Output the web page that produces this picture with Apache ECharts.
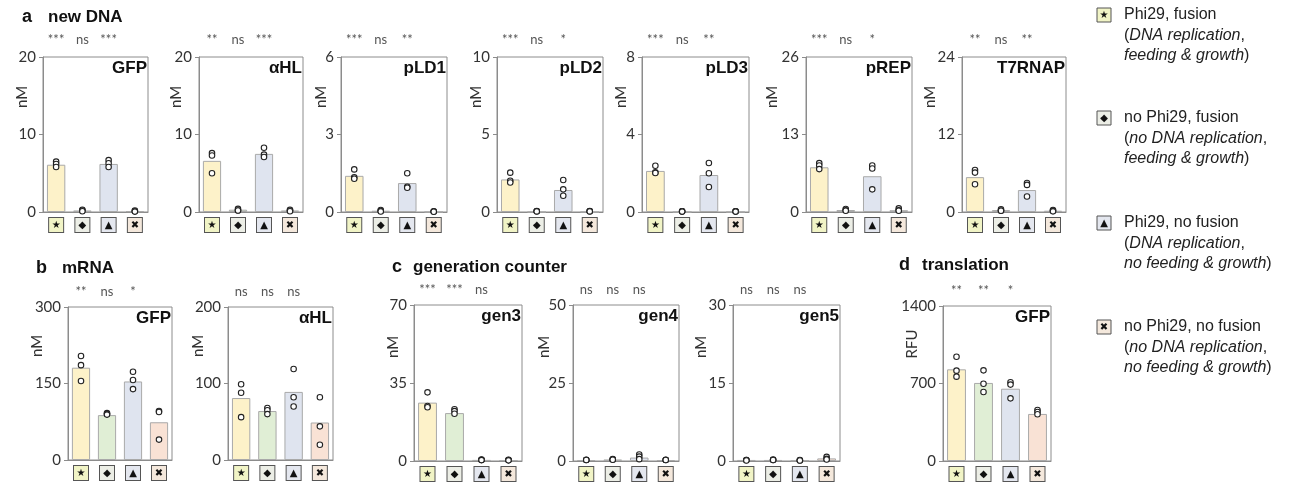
<!DOCTYPE html>
<html><head><meta charset="utf-8">
<script src="https://cdn.jsdelivr.net/npm/echarts@6/dist/echarts.min.js"></script>
<style>html,body{margin:0;padding:0;background:#fff}#c{width:1299px;height:485px}</style>
</head><body><div id="c"></div>
<script>
// ---- categories ----
const conditions = ['Phi29, fusion', 'no Phi29, fusion', 'Phi29, no fusion', 'no Phi29, no fusion'];
const conditionSymbols = ['★', '◆', '▲', '✖'];
const legendLine2 = ['DNA replication', 'no DNA replication', 'DNA replication', 'no DNA replication'];
const legendLine3 = ['feeding & growth', 'feeding & growth', 'no feeding & growth', 'no feeding & growth'];

// ---- a: new DNA ----
const dnaGFP_mean = [6.1, 0.2, 6.2, 0.1];
const dnaGFP_reps = [[6.5, 6.2, 5.8], [0.3, 0.2, 0.1], [6.7, 6.3, 5.8], [0.2, 0.1, 0.05]];
const dnaGFP_sig = ['***', 'ns', '***'];
const dnaGFP_ticks = [0, 10, 20];

const dnaHL_mean = [6.6, 0.3, 7.5, 0.2];
const dnaHL_reps = [[7.6, 7.3, 5.0], [0.4, 0.2, 0.2], [8.3, 7.4, 7.1], [0.3, 0.2, 0.1]];
const dnaHL_sig = ['**', 'ns', '***'];
const dnaHL_ticks = [0, 10, 20];

const dnaLD1_mean = [1.4, 0.05, 1.12, 0.0];
const dnaLD1_reps = [[1.65, 1.34, 1.29], [0.08, 0.04, 0.02], [1.5, 0.98, 0.94], [0.03, 0.02, 0.01]];
const dnaLD1_sig = ['***', 'ns', '**'];
const dnaLD1_ticks = [0, 3, 6];

const dnaLD2_mean = [2.1, 0.0, 1.42, 0.0];
const dnaLD2_reps = [[2.54, 2.02, 1.9], [0.06, 0.05, 0.04], [2.06, 1.46, 1.05], [0.06, 0.05, 0.04]];
const dnaLD2_sig = ['***', 'ns', '*'];
const dnaLD2_ticks = [0, 5, 10];

const dnaLD3_mean = [2.12, 0.0, 1.91, 0.0];
const dnaLD3_reps = [[2.39, 2.05, 2.01], [0.04, 0.03, 0.02], [2.53, 2.0, 1.29], [0.04, 0.03, 0.02]];
const dnaLD3_sig = ['***', 'ns', '**'];
const dnaLD3_ticks = [0, 4, 8];

const dnaREP_mean = [7.5, 0.33, 6.0, 0.3];
const dnaREP_reps = [[8.2, 7.8, 7.2], [0.5, 0.3, 0.2], [7.8, 7.3, 3.8], [0.6, 0.3, 0.2]];
const dnaREP_sig = ['***', 'ns', '*'];
const dnaREP_ticks = [0, 13, 26];

const dnaT7_mean = [5.4, 0.3, 3.4, 0.2];
const dnaT7_reps = [[6.5, 6.1, 4.3], [0.4, 0.2, 0.2], [4.5, 4.2, 2.4], [0.3, 0.2, 0.1]];
const dnaT7_sig = ['**', 'ns', '**'];
const dnaT7_ticks = [0, 12, 24];

// ---- b: mRNA ----
const rnaGFP_mean = [181, 88, 154, 74];
const rnaGFP_reps = [[204, 186, 155], [92, 90, 89], [173, 157, 139], [96, 94, 40]];
const rnaGFP_sig = ['**', 'ns', '*'];
const rnaGFP_ticks = [0, 150, 300];

const rnaHL_mean = [81, 64, 89, 49];
const rnaHL_reps = [[99, 88, 56], [68, 65, 60], [119, 82, 70], [82, 44, 20]];
const rnaHL_sig = ['ns', 'ns', 'ns'];
const rnaHL_ticks = [0, 100, 200];

// ---- c: generation counter ----
const gen3_mean = [26.2, 21.5, 0.5, 0.4];
const gen3_reps = [[30.8, 24.7, 24.1], [23.2, 22.4, 21.2], [0.6, 0.5, 0.4], [0.5, 0.4, 0.3]];
const gen3_sig = ['***', '***', 'ns'];
const gen3_ticks = [0, 35, 70];

const gen4_mean = [0.3, 0.5, 1.1, 0.3];
const gen4_reps = [[0.4, 0.3, 0.3], [0.6, 0.5, 0.4], [2.1, 1.4, 0.6], [0.4, 0.3, 0.3]];
const gen4_sig = ['ns', 'ns', 'ns'];
const gen4_ticks = [0, 25, 50];

const gen5_mean = [0.2, 0.2, 0.1, 0.5];
const gen5_reps = [[0.2, 0.2, 0.1], [0.3, 0.2, 0.2], [0.2, 0.1, 0.1], [0.8, 0.4, 0.3]];
const gen5_sig = ['ns', 'ns', 'ns'];
const gen5_ticks = [0, 15, 30];

// ---- d: translation ----
const trGFP_mean = [828, 705, 653, 425];
const trGFP_reps = [[942, 816, 762], [819, 698, 623], [711, 690, 566], [461, 443, 422]];
const trGFP_sig = ['**', '**', '*'];
const trGFP_ticks = [0, 700, 1400];

const panels = [
  { name: 'GFP', unit: 'nM', mean: dnaGFP_mean, reps: dnaGFP_reps, sig: dnaGFP_sig, ticks: dnaGFP_ticks },
  { name: 'αHL', unit: 'nM', mean: dnaHL_mean, reps: dnaHL_reps, sig: dnaHL_sig, ticks: dnaHL_ticks },
  { name: 'pLD1', unit: 'nM', mean: dnaLD1_mean, reps: dnaLD1_reps, sig: dnaLD1_sig, ticks: dnaLD1_ticks },
  { name: 'pLD2', unit: 'nM', mean: dnaLD2_mean, reps: dnaLD2_reps, sig: dnaLD2_sig, ticks: dnaLD2_ticks },
  { name: 'pLD3', unit: 'nM', mean: dnaLD3_mean, reps: dnaLD3_reps, sig: dnaLD3_sig, ticks: dnaLD3_ticks },
  { name: 'pREP', unit: 'nM', mean: dnaREP_mean, reps: dnaREP_reps, sig: dnaREP_sig, ticks: dnaREP_ticks },
  { name: 'T7RNAP', unit: 'nM', mean: dnaT7_mean, reps: dnaT7_reps, sig: dnaT7_sig, ticks: dnaT7_ticks },
  { name: 'GFP', unit: 'nM', mean: rnaGFP_mean, reps: rnaGFP_reps, sig: rnaGFP_sig, ticks: rnaGFP_ticks },
  { name: 'αHL', unit: 'nM', mean: rnaHL_mean, reps: rnaHL_reps, sig: rnaHL_sig, ticks: rnaHL_ticks },
  { name: 'gen3', unit: 'nM', mean: gen3_mean, reps: gen3_reps, sig: gen3_sig, ticks: gen3_ticks },
  { name: 'gen4', unit: 'nM', mean: gen4_mean, reps: gen4_reps, sig: gen4_sig, ticks: gen4_ticks },
  { name: 'gen5', unit: 'nM', mean: gen5_mean, reps: gen5_reps, sig: gen5_sig, ticks: gen5_ticks },
  { name: 'GFP', unit: 'RFU', mean: trGFP_mean, reps: trGFP_reps, sig: trGFP_sig, ticks: trGFP_ticks }
];

const sections = [
  { letter: 'a', title: 'new DNA' },
  { letter: 'b', title: 'mRNA' },
  { letter: 'c', title: 'generation counter' },
  { letter: 'd', title: 'translation' }
];

// ---- layout & style (kept separate from data) ----
const layout = [
  { l: 43, t: 57, w: 105, h: 155, nx: -21, ny: 40, sm: 11 },
  { l: 199, t: 57, w: 104, h: 155, nx: -23, ny: 40, sm: 11 },
  { l: 341, t: 57, w: 106, h: 155, nx: -20, ny: 40, sm: 11 },
  { l: 497, t: 57, w: 106, h: 155, nx: -21, ny: 40, sm: 11 },
  { l: 642, t: 57, w: 107, h: 155, nx: -21, ny: 40, sm: 11 },
  { l: 806, t: 57, w: 106, h: 155, nx: -34, ny: 40, sm: 11 },
  { l: 962, t: 57, w: 104, h: 155, nx: -32, ny: 40, sm: 11 },
  { l: 68, t: 307, w: 104, h: 153, nx: -31, ny: 39, sm: 9 },
  { l: 228, t: 307, w: 105, h: 153, nx: -30, ny: 39, sm: 9 },
  { l: 414, t: 305, w: 108, h: 156, nx: -21, ny: 42, sm: 9 },
  { l: 573, t: 305, w: 106, h: 156, nx: -29, ny: 42, sm: 9 },
  { l: 733, t: 305, w: 107, h: 156, nx: -32, ny: 42, sm: 9 },
  { l: 943, t: 306, w: 108, h: 155, nx: -31, ny: 38, sm: 9 }
];
const sectionPos = [
  { lx: 22, tx: 48, y: 17 },
  { lx: 36, tx: 62, y: 268 },
  { lx: 392, tx: 413, y: 267 },
  { lx: 899, tx: 922, y: 265 }
];
const legendPos = { bx: 1097, tx: 1124, ys: [15, 118, 223, 327] };

const barColors = ['#fdf2c9', '#e0eed5', '#dfe4ef', '#f9e2d5'];
const boxColors = ['#f1f4c6', '#eceee6', '#e4e7ef', '#f4e8dc'];
const axisGray = '#8c8c8c';

const richBoxes = {};
boxColors.forEach((c, k) => {
  richBoxes['s' + k] = {
    backgroundColor: c, borderColor: '#555', borderWidth: 1,
    width: 14, height: 14, lineHeight: 14, align: 'center',
    fontSize: 10, fontFamily: 'DejaVu Sans', color: '#111'
  };
});

const grid = [], xAxis = [], yAxis = [], series = [], graphic = [];

panels.forEach((p, i) => {
  const L = layout[i];
  grid.push({ left: L.l, top: L.t, width: L.w, height: L.h, show: true, borderColor: axisGray, borderWidth: 1, containLabel: false });
  xAxis.push({
    gridIndex: i, type: 'category', data: conditions,
    axisLine: { show: true, lineStyle: { color: axisGray } },
    axisTick: { show: false },
    axisLabel: { interval: 0, margin: 6, formatter: (v, idx) => '{s' + idx + '|' + conditionSymbols[idx] + '}', rich: richBoxes }
  });
  xAxis.push({
    gridIndex: i, type: 'category', position: 'top', data: conditions,
    axisLine: { show: false }, axisTick: { show: false },
    axisLabel: { interval: 0, margin: L.sm, color: '#555', fontSize: 13, fontFamily: 'Lato', formatter: (v, idx) => p.sig[idx] || '' }
  });
  yAxis.push({
    gridIndex: i, type: 'value', min: p.ticks[0], max: p.ticks[2], interval: p.ticks[1] - p.ticks[0],
    splitLine: { show: false },
    axisLine: { show: true, lineStyle: { color: axisGray } },
    axisTick: { show: true, length: 4, lineStyle: { color: axisGray } },
    axisLabel: { color: '#333', fontSize: 15, fontFamily: 'Lato', margin: 7, formatter: v => String(v) }
  });
  series.push({
    type: 'bar', xAxisIndex: 2 * i, yAxisIndex: i, barWidth: '70%', silent: true,
    itemStyle: { borderColor: '#a9a9a9', borderWidth: 1 },
    data: p.mean.map((v, k) => ({ value: v, itemStyle: { color: barColors[k] } }))
  });
  const pts = [];
  p.reps.forEach((arr, k) => arr.forEach(v => pts.push([k, v])));
  series.push({
    type: 'scatter', xAxisIndex: 2 * i, yAxisIndex: i, z: 5, silent: true,
    symbol: 'circle', symbolSize: 5.5,
    itemStyle: { color: '#fff', borderColor: '#222', borderWidth: 1.1, opacity: 1 },
    data: pts
  });
  graphic.push({
    type: 'text', x: L.l + L.w - 1, y: L.t + 3,
    style: { text: p.name, align: 'right', verticalAlign: 'top', font: 'bold 17px "Liberation Sans", Arial', fill: '#111' }
  });
  graphic.push({
    type: 'text', x: L.l + L.nx, y: L.t + L.ny, rotation: Math.PI / 2,
    style: { text: p.unit, align: 'center', verticalAlign: 'middle', font: '15px Lato', fill: '#333' }
  });
});

sections.forEach((s, k) => {
  const P = sectionPos[k];
  graphic.push({ type: 'text', x: P.lx, y: P.y, style: { text: s.letter, verticalAlign: 'middle', font: 'bold 18px "Liberation Sans", Arial', fill: '#111' } });
  graphic.push({ type: 'text', x: P.tx, y: P.y, style: { text: s.title, verticalAlign: 'middle', font: 'bold 17px "Liberation Sans", Arial', fill: '#111' } });
});

conditions.forEach((c, k) => {
  const y = legendPos.ys[k];
  graphic.push({ type: 'rect', shape: { x: legendPos.bx, y: y - 7, width: 14, height: 14 }, style: { fill: boxColors[k], stroke: '#555', lineWidth: 1 } });
  graphic.push({ type: 'text', x: legendPos.bx + 7, y: y, style: { text: conditionSymbols[k], align: 'center', verticalAlign: 'middle', font: '10px "DejaVu Sans"', fill: '#111' } });
  graphic.push({
    type: 'text', x: legendPos.tx, y: y - 10.25,
    style: {
      text: c + '\n({i|' + legendLine2[k] + '},\n{i|' + legendLine3[k] + '})',
      verticalAlign: 'top', fontSize: 16, fontFamily: 'Liberation Sans', lineHeight: 20.5, fill: '#222',
      rich: { i: { fontStyle: 'italic', fontSize: 16, fontFamily: 'Liberation Sans', lineHeight: 20.5, fill: '#222' } }
    }
  });
});

const chart = echarts.init(document.getElementById('c'), null, { renderer: 'canvas' });
chart.setOption({ animation: false, backgroundColor: '#fff', grid, xAxis, yAxis, series, graphic });
</script></body></html>
